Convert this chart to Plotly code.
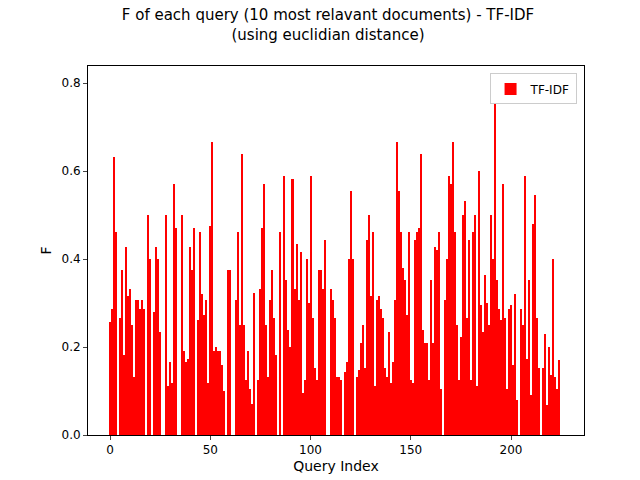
import plotly.graph_objects as go

# F values per query (index 0..224)
f_part1 = [.258, .286, .632, .461, 0, .266, .375, .182, .427, .317, .332, .25, .132, .307, .307, .286,
           .307, .286, 0, .5, .4, 0, .28, .427, .4, .234, 0, 0, .5, .111, .166, .118, .57, .47, 0, 0,
           .5, .191, .166, .173, .427, .375, .47, 0, .262, .461, .32, .273, .307, .118, .475, .666,
           .191, .2, .191, .191, .159, .1, 0, .375, .375]
f_part2 = [0, 0, .307, .461, .25, .639, .25, .125, .191, .105, .07, .323, 0, .125, .332, .47, .57,
           .25, .132, .307, .375, .266, .182, 0, .461, 0, .589, .352, .239, .2, .582, .332, .434,
           .307, .416, .095, .125, .4, .3, .589, .266, .152, .125, .375, .375, .332, .443, 0, 0,
           .332, .307, .266, .132, .132, .125, 0, .143, .166, .4, .555, .4, 0, .132]
f_part3 = [.148, .209, .25, .152, .443, .5, .316, .461, .111, .307, .316, .286, .266, .152, .132,
           .234, .118, .166, .307, .666, .555, .461, .38, .352, .273, .461, .125, .118, .443, .461,
           .47, .639, .239, .209, .209, .125, .352, .209, .427, .42]
f_part4 = [.461, .105, 0, .307, .4, .589, .57, .666, .461, .25, .125, .223, .5, .532, .266, .443,
           .125, .461, .5, .111, .6, .295, .234, .364, .3, .25, .5, .4, .766, .352, .286, .261, .57,
           .266, .105, .286, .295, .159, .32, .08, 0, .286, .25, .589, .173, .352, .091, .48, .545,
           .266, .152, 0, .152, .23, .068, .2, .136, .4, .132, .105, .17]

f_values = f_part1 + f_part2 + f_part3 + f_part4
query_index = list(range(len(f_values)))

# the middle block of bars renders as solid in the reference
widths = [1.0 if 62 <= i <= 163 else 0.4 for i in query_index]

fig = go.Figure(go.Bar(x=query_index, y=f_values, width=widths, name="TF-IDF",
                       marker=dict(color="#ff0000", line=dict(width=0)), showlegend=True))

fig.update_layout(
    width=640, height=480,
    margin=dict(l=80, r=64, t=58, b=53, autoexpand=False),
    paper_bgcolor="white", plot_bgcolor="white",
    font=dict(family="DejaVu Sans", size=12, color="black"),
    title=dict(text="F of each query (10 most relavant documents) - TF-IDF<br>(using euclidian distance)",
               x=0.5, xanchor="center", y=0.975, yanchor="top", font=dict(size=15)),
    bargap=0,
    xaxis=dict(title=dict(text="Query Index", standoff=4), range=[-11, 236.4], tickvals=[0, 50, 100, 150, 200],
               showline=True, mirror=True, linecolor="black", ticks="outside", ticklen=4,
               showgrid=False, zeroline=False, automargin=False),
    yaxis=dict(title=dict(text="F", standoff=6), range=[0, 0.839], tickvals=[0, .2, .4, .6, .8], tickformat=".1f",
               showline=True, mirror=True, linecolor="black", ticks="outside", ticklen=4,
               showgrid=False, zeroline=False, automargin=False),
    legend=dict(x=0.985, y=0.98, xanchor="right", yanchor="top", bordercolor="#cccccc",
                borderwidth=1, font=dict(size=12)),
)

fig.write_html("out.html")
